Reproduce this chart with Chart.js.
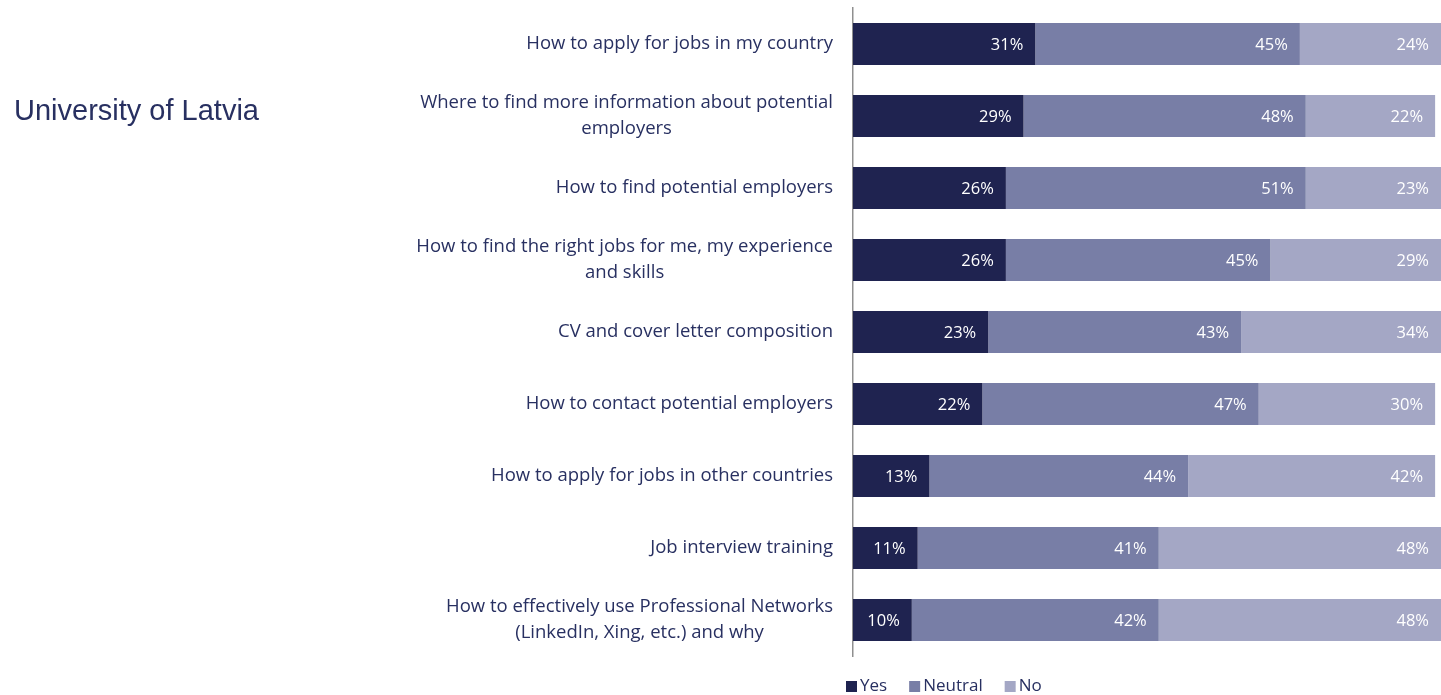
<!DOCTYPE html>
<html>
<head>
<meta charset="utf-8">
<script src="https://cdn.jsdelivr.net/npm/chart.js@4"></script>
<style>
  html, body { margin: 0; padding: 0; background: #ffffff; }
  #wrap { position: relative; width: 1441px; height: 695px; }
  #title {
    position: absolute; left: 14px; top: 94px;
    font-family: "Liberation Sans", Arial, sans-serif;
    font-size: 29px; color: #283061; white-space: nowrap;
  }
  canvas { position: absolute; left: 0; top: 0; }
</style>
</head>
<body>
<div id="wrap">
  <canvas id="chart" width="1441" height="695"></canvas>
  <div id="title">University of Latvia</div>
</div>
<script>
const topics = [
    ['How to apply for jobs in my country'],
    ['Where to find more information about potential', 'employers'],
    ['How to find potential employers'],
    ['How to find the right jobs for me, my experience', 'and skills'],
    ['CV and cover letter composition'],
    ['How to contact potential employers'],
    ['How to apply for jobs in other countries'],
    ['Job interview training'],
    ['How to effectively use Professional Networks', '(LinkedIn, Xing, etc.) and why']
];

const yes     = [31, 29, 26, 26, 23, 22, 13, 11, 10];
const neutral = [45, 48, 51, 45, 43, 47, 44, 41, 42];
const no      = [24, 22, 23, 29, 34, 30, 42, 48, 48];

const seriesNames = ['Yes', 'Neutral', 'No'];
const colors = ['#1f2350', '#787ea6', '#a4a7c5'];

const textColor = '#283061';
const labelFont = '18.5px "Open Sans", sans-serif';
const valueFont = '16.5px "Open Sans", sans-serif';
const legendFont = '17px "Open Sans", sans-serif';

// topic labels: widest line right aligned against the axis, other lines centred under it
const topicLabels = {
    id: 'topicLabels',
    afterDraw(chart) {
        const ctx = chart.ctx;
        const scale = chart.scales.y;
        const right = scale.right - 20;
        ctx.save();
        ctx.font = labelFont;
        ctx.fillStyle = textColor;
        ctx.textAlign = 'center';
        ctx.textBaseline = 'middle';
        topics.forEach((lines, i) => {
            const y = scale.getPixelForTick(i);
            const w = Math.max(...lines.map(l => ctx.measureText(l).width));
            const cx = right - w / 2;
            const lh = 26;
            const y0 = y - (lines.length - 1) * lh / 2;
            lines.forEach((l, j) => ctx.fillText(l, cx, y0 + j * lh));
        });
        ctx.restore();
    }
};

// percentage labels at the inner end of every segment
const valueLabels = {
    id: 'valueLabels',
    afterDatasetsDraw(chart) {
        const ctx = chart.ctx;
        ctx.save();
        ctx.font = valueFont;
        ctx.fillStyle = '#ffffff';
        ctx.textAlign = 'right';
        ctx.textBaseline = 'middle';
        chart.data.datasets.forEach((ds, di) => {
            chart.getDatasetMeta(di).data.forEach((bar, i) => {
                ctx.fillText(ds.data[i] + '%', bar.x - 12, bar.y + 1);
            });
        });
        ctx.restore();
    }
};

// legend under the bars, starting just left of the axis
const bottomLegend = {
    id: 'bottomLegend',
    afterDraw(chart) {
        const ctx = chart.ctx;
        let x = chart.chartArea.left - 7;
        const y = 686;
        ctx.save();
        ctx.font = legendFont;
        ctx.textBaseline = 'middle';
        ctx.textAlign = 'left';
        seriesNames.forEach((name, i) => {
            ctx.fillStyle = colors[i];
            ctx.fillRect(x, y - 5, 11, 11);
            ctx.fillStyle = textColor;
            ctx.fillText(name, x + 14, y);
            x += 14 + ctx.measureText(name).width + 22;
        });
        ctx.restore();
    }
};

new Chart(document.getElementById('chart'), {
    type: 'bar',
    data: {
        labels: topics,
        datasets: [yes, neutral, no].map((values, i) => ({
            label: seriesNames[i],
            data: values,
            backgroundColor: colors[i],
            borderWidth: 0,
            barPercentage: 0.58,
            categoryPercentage: 1
        }))
    },
    options: {
        indexAxis: 'y',
        responsive: false,
        animation: false,
        devicePixelRatio: 1,
        layout: {
            padding: { top: 8, bottom: 39, left: 0, right: 0 }
        },
        plugins: {
            legend: { display: false },
            tooltip: { enabled: false }
        },
        scales: {
            x: {
                stacked: true,
                min: 0,
                max: 100,
                display: false
            },
            y: {
                stacked: true,
                grid: { display: false },
                border: { display: true, color: '#8f8f8f', width: 1.5 },
                ticks: { display: false },
                afterFit(scale) {
                    scale.width = 853;
                }
            }
        }
    },
    plugins: [topicLabels, valueLabels, bottomLegend]
});
</script>
</body>
</html>
